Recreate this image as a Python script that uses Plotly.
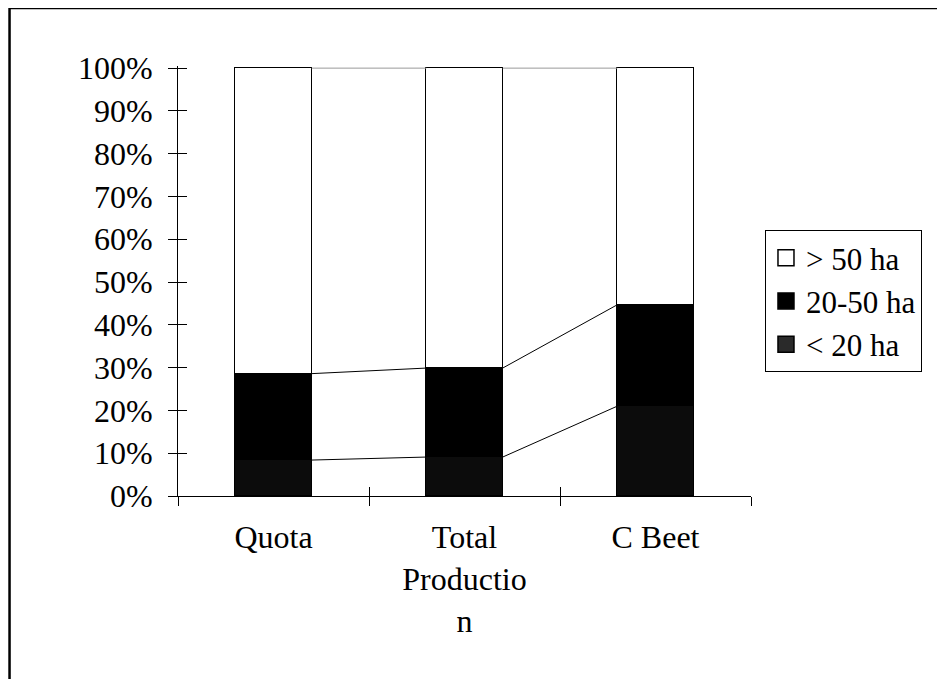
import plotly.graph_objects as go

categories = ["Quota", "Total<br>Productio<br>n", "C Beet"]
series_names = ["< 20 ha", "20-50 ha", "> 50 ha"]
under_20 = [8.4, 9.1, 21.0]
from_20_to_50 = [20.2, 20.8, 23.7]
over_50 = [71.4, 70.1, 55.3]
y_ticks = [0, 10, 20, 30, 40, 50, 60, 70, 80, 90, 100]

series_values = [under_20, from_20_to_50, over_50]
fill_colors = ["#0c0c0c", "#000000", "#ffffff"]
legend_colors = ["#2a2a2a", "#000000", "#ffffff"]

x_pos = list(range(len(categories)))
bar_width = 0.40
FONT = "Liberation Serif, Times New Roman, serif"

fig = go.Figure()

# stacked bars
for name, vals, col in zip(series_names, series_values, fill_colors):
    fig.add_trace(go.Bar(
        x=x_pos, y=vals, name=name, width=bar_width,
        marker=dict(color=col, line=dict(color="black", width=1.5)),
        showlegend=False, hoverinfo="skip"))

# series lines connecting segment tops between bars
cum = [0.0] * len(categories)
for k, vals in enumerate(series_values):
    cum = [c + v for c, v in zip(cum, vals)]
    xs, ys = [], []
    for i in range(len(categories) - 1):
        xs += [x_pos[i] + bar_width / 2, x_pos[i + 1] - bar_width / 2, None]
        ys += [cum[i], cum[i + 1], None]
    fig.add_trace(go.Scatter(
        x=xs, y=ys, mode="lines",
        line=dict(color="black" if k < 2 else "#999999", width=1),
        showlegend=False, hoverinfo="skip"))

# legend entries (top-to-bottom: > 50, 20-50, < 20)
for name, col in reversed(list(zip(series_names, legend_colors))):
    fig.add_trace(go.Scatter(
        x=[None], y=[None], mode="markers", name=name,
        marker=dict(symbol="square", size=16, color=col,
                    line=dict(color="black", width=1.5)),
        showlegend=True))

axis_common = dict(showgrid=False, zeroline=False, linecolor="black",
                   linewidth=1, tickcolor="black", tickwidth=1, ticklen=9)

# the page adds an 8px body margin; compensate in the figure margins
fig.update_layout(
    width=945, height=679,
    margin=dict(l=170, r=202, t=58, b=191),
    paper_bgcolor="white", plot_bgcolor="white",
    barmode="stack", bargap=0,
    font=dict(family=FONT, size=32, color="black"),
    showlegend=True,
    legend=dict(x=1.0244, y=0.6186, xanchor="left", yanchor="top",
                bordercolor="black", borderwidth=1, bgcolor="white",
                traceorder="normal", font=dict(size=31, family=FONT),
                itemsizing="trace"),
    xaxis=dict(range=[-0.5, 2.5], tickvals=x_pos, ticktext=categories,
               ticks="", showline=True, ticklabelstandoff=13,
               **{k: v for k, v in axis_common.items() if k not in ("ticklen",)}),
    xaxis2=dict(range=[-0.5, 2.5], overlaying="x", side="bottom",
                anchor="y", tickvals=[-0.5, 0.5, 1.5, 2.5], ticks="outside",
                showticklabels=False, showline=False, **axis_common),
    xaxis3=dict(range=[-0.5, 2.5], overlaying="x", side="bottom",
                anchor="y", tickvals=[-0.5, 0.5, 1.5, 2.5], ticks="inside",
                showticklabels=False, showline=False, **axis_common),
    yaxis=dict(range=[0, 100.5], tickvals=y_ticks,
               ticktext=[f"{t}%" for t in y_ticks], ticks="outside",
               showline=True, ticklabelstandoff=9, **axis_common),
    yaxis2=dict(range=[0, 100.5], overlaying="y", anchor="x",
                tickvals=y_ticks, ticks="inside", showticklabels=False,
                showline=False, **axis_common),
)

# dummy traces to attach overlay axes
fig.add_trace(go.Scatter(x=[None], y=[None], xaxis="x2", yaxis="y",
                         showlegend=False, hoverinfo="skip"))
fig.add_trace(go.Scatter(x=[None], y=[None], xaxis="x3", yaxis="y2",
                         showlegend=False, hoverinfo="skip"))

# outer chart frame (extends beyond the visible page on right/bottom)
fig.add_shape(type="path", xref="paper", yref="paper",
              path="M -0.294,-0.5 L -0.294,1.135 L 1.4,1.135",
              line=dict(color="black", width=2.5))

fig.write_html("out.html")
